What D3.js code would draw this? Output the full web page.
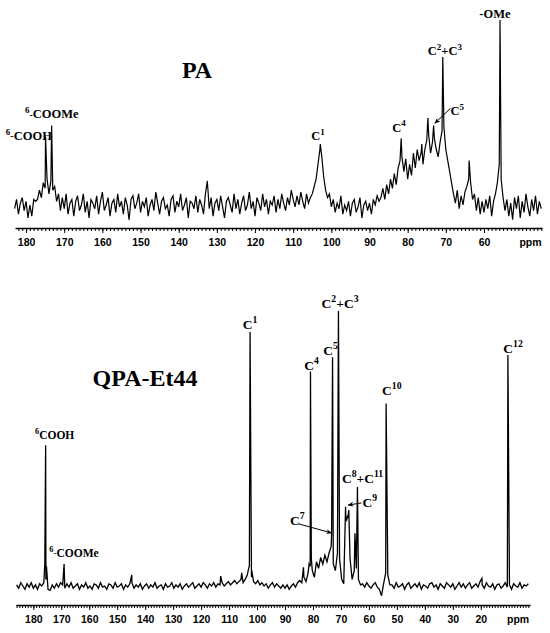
<!DOCTYPE html>
<html><head><meta charset="utf-8">
<script src="https://cdn.jsdelivr.net/npm/d3@7"></script>
<style>
html,body{margin:0;padding:0;background:#fff;}
svg{display:block;}
.axis text{font-family:"Liberation Sans",Arial,sans-serif;font-weight:bold;font-size:10.5px;fill:#000;}
.axis .domain{stroke:#000;stroke-width:1.6px;}
.axis line{stroke:#000;stroke-width:1px;}
.lbl{font-family:"Liberation Serif","Times New Roman",serif;font-weight:bold;fill:#000;}
</style></head><body>
<svg id="chart" width="550" height="633"></svg>
<script>
// ---------------- DATA ----------------
const ticksTop = [180,170,160,150,140,130,120,110,100,90,80,70,60];
const ticksBottom = [180,170,160,150,140,130,120,110,100,90,80,70,60,50,40,30,20];

// PA trace: intensity read every 0.5 ppm from 183.0 ppm down to 45.0 ppm (a.u., -OMe = 100)
const paStart = 183.0, paStep = 0.5;
const paTrace = [
 -2,3,-5,1,4,-3,2,-7,0,-6,3,2,
 3,8,4,12,9,14,6,13,8,10,2,6,-3,
 4,-2,6,-5,1,3,-6,2,5,-3,
 0,6,-4,2,-7,3,1,-2,5,-5,
 2,7,-3,0,4,-6,1,3,-4,6,
 -1,2,-5,4,0,-8,3,5,-2,1,
 6,-4,2,-1,4,-6,0,3,-3,7,
 1,-5,2,4,-2,0,-6,3,5,-4,
 2,-1,6,-3,0,4,-7,2,1,-2,
 5,-4,3,0,-5,6,13,-2,4,-6,
 1,3,-3,5,-1,-7,2,4,0,-4,
 6,-2,3,-5,1,5,-3,0,7,-2,
 2,-6,4,1,-3,6,-1,3,-5,2,
 0,5,-4,3,-2,6,1,-3,4,0,
 8,
 3,-1,5,0,7,2,-2,6,1,4,
 6,10,14,22,30,26,15,8,4,6,
 -1,3,-4,1,-2,5,-5,0,-3,2,-6,1,3,-4,-1,4,-7,0,2,-3,1,-5,3,0,5,2,
 4,9,3,11,6,14,9,17,11,20,24,26,18,25,14,22,16,28,
 20,30,24,28,22,30,35,38,28,34,36,30,26,34,40,42,30,24,18,12,
 6,1,8,-2,5,0,7,10,14,12,3,6,-3,4,-5,2,-4,3,-2,5,
 -6,2,6,12,22,14,4,-3,3,-6,1,-8,4,-2,5,-7,2,-4,6,-1,
 -6,3,-3,5,-5,2,-2
];
// PA resolved peaks [ppm, intensity]
const paPeaks = [[174.9,37],[173.3,43],[102.9,33],[81.7,36],[76.3,33],[74.7,47],[73.2,43],[70.8,80],[63.9,24],[55.8,100]];

// QPA-Et44 trace: intensity read every 0.75 ppm from 186.0 ppm down to 3.0 ppm (a.u., C2+C3 = 250)
const qpaStart = 186.0, qpaStep = 0.75;
const qpaTrace = [
 1,-2,3,0,-3,2,-1,3,-2,1,-3,2,0,
 3,6,-3,
 -4,1,-2,2,-1,3,
 1,-2,2,
 -1,3,-2,0,2,-3,1,-1,3,-2,
 0,-3,2,1,-2,3,-1,0,-3,2,
 1,-2,3,-1,0,2,-3,1,-1,2,
 3,-2,1,-1,2,-3,0,2,-2,1,
 -1,3,-2,0,1,-3,2,-1,0,3,
 -2,1,-1,2,-3,0,2,-1,1,3,
 -2,0,2,-1,3,1,-2,2,0,3,
 -1,2,
 1,3,0,2,4,1,3,5,2,4,6,3,6,10,
 18,8,4,2,5,1,3,0,2,-2,1,3,-1,2,0,-2,1,
 -2,1,-3,0,2,-1,3,5,3,8,4,12,
 18,
 14,8,22,16,26,20,28,22,30,36,20,14,30,25,6,2,62,62,25,6,14,16,6,1,
 2,-1,3,0,-2,1,3,-1,-3,-9,
 2,12,10,1,
 1,-2,3,-1,0,2,-3,1,3,-2,
 0,2,-1,3,-3,1,0,-2,2,3,
 -1,1,-3,2,0,-2,3,1,-1,2,
 -3,0,3,-1,2,-2,1,3,-2,0,
 2,-1,4,1,-2,3,0,-1,2,-3,
 1,2,-2,0,3,-1,1,-3,2,0,
 -1,3,-2,1,0,2
];
// QPA-Et44 resolved peaks [ppm, intensity]
const qpaPeaks = [
 [175.9,20],[175.6,128],[175.3,18],[169.0,20],[144.8,10],[113.0,9],[105.5,12],
 [103.0,16],[102.5,231],[101.9,14],[83.4,17],[81.4,20],[80.9,195],[80.6,25],
 [73.35,47],[73.0,208],[70.9,250],[68.35,72],[67.95,60],[67.65,64],[67.2,69],
 [65.0,48],[64.1,90],[53.85,166],[19.6,7],[10.3,210]
];

// Annotations: parts [text, kind], position in (ppm, intensity)
const paTitle = {parts:[["PA",""]], ppm:135.2, v:68.6, size:24, anchor:"middle"};
const paLabels = [
 {parts:[["-OMe",""]], ppm:57.15, v:101, anchor:"middle"},
 {parts:[["C",""],["2","sup"],["+C",""],["3","sup"]], ppm:70.25, v:81, anchor:"middle"},
 {parts:[["C",""],["5","sup"]], ppm:67.0, v:48.6, anchor:"middle"},
 {parts:[["C",""],["4","sup"]], ppm:82.3, v:39.6, anchor:"middle"},
 {parts:[["C",""],["1","sup"]], ppm:103.5, v:35.1, anchor:"middle"},
 {parts:[["6","sup"],["-","dash"],["COOMe",""]], ppm:180.3, v:46.9, anchor:"start"},
 {parts:[["6","sup"],["-","dash"],["COOH",""]], ppm:185.3, v:35.1, anchor:"start"}
];
const paArrows = [{from:[68.75,52.3], to:[72.87,44.2]}];

const qpaTitle = {parts:[["QPA-Et44",""]], ppm:140.06, v:181.8, size:24, anchor:"middle"};
const qpaLabels = [
 {parts:[["6","sup"],["COOH",""]], ppm:179.4, v:133.4, anchor:"start", size:11.5},
 {parts:[["6","sup"],["-","dash"],["COOMe",""]], ppm:174.3, v:26.4, anchor:"start", size:11.5},
 {parts:[["C",""],["1","sup"]], ppm:102.51, v:233.6, anchor:"middle"},
 {parts:[["C",""],["4","sup"]], ppm:80.51, v:196.4, anchor:"middle"},
 {parts:[["C",""],["5","sup"]], ppm:73.72, v:210, anchor:"middle"},
 {parts:[["C",""],["2","sup"],["+C",""],["3","sup"]], ppm:70.32, v:252.7, anchor:"middle"},
 {parts:[["C",""],["10","sup"]], ppm:51.83, v:173.6, anchor:"middle"},
 {parts:[["C",""],["12","sup"]], ppm:8.45, v:211.8, anchor:"middle"},
 {parts:[["C",""],["8","sup"],["+C",""],["11","sup"]], ppm:62.27, v:93.9, anchor:"middle"},
 {parts:[["C",""],["9","sup"]], ppm:62.27, v:71.8, anchor:"start"},
 {parts:[["C",""],["7","sup"]], ppm:88.2, v:55.5, anchor:"start"}
];
const qpaArrows = [{from:[62.63,75.5], to:[67.46,73.6]}, {from:[85.0,56.4], to:[73.36,48.2]}];

// ---------------- CHART ----------------
const svg = d3.select("#chart");
svg.append("defs").append("marker")
  .attr("id","arr").attr("viewBox","0 0 10 10").attr("refX",9).attr("refY",5)
  .attr("markerWidth",6).attr("markerHeight",6).attr("orient","auto-start-reverse")
  .append("path").attr("d","M0,1 L10,5 L0,9 L3,5 z").attr("fill","#000");

function buildSeries(start, step, trace, peaks){
  const pts = trace.map((v,i)=>({ppm:start - i*step, v}));
  peaks.forEach(([p,v])=>pts.push({ppm:p, v}));
  pts.sort((a,b)=>b.ppm - a.ppm);
  return pts;
}

function drawLabel(g, spec, x, y, defSize){
  const size = spec.size || defSize;
  const t = g.append("text").attr("class","lbl")
    .attr("x", x(spec.ppm)).attr("y", y(spec.v))
    .attr("font-size", size).attr("text-anchor", spec.anchor || "middle");
  let shift = 0;
  spec.parts.forEach(([s,k])=>{
    let target = 0, fs = null;
    if (k === "sup") { target = -0.42*size; fs = size*0.72; }
    else if (k === "dash") { target = -0.05*size; fs = size*0.8; }
    const ts = t.append("tspan").text(s).attr("dy", target - shift);
    if (fs) ts.attr("font-size", fs);
    shift = target;
  });
}

function drawAxis(yPos, x, majors, ppmPos){
  const g = svg.append("g").attr("class","axis").attr("transform",`translate(0,${yPos})`);
  const [d0, d1] = x.domain();
  const minor = d3.range(Math.ceil(d1), Math.floor(d0) + 1);
  g.append("g").call(d3.axisBottom(x).tickValues(minor).tickSize(3).tickSizeOuter(0).tickFormat(""));
  const gm = g.append("g").call(d3.axisBottom(x).tickValues(majors).tickSize(5).tickSizeOuter(0).tickPadding(6).tickFormat(d3.format("d")));
  gm.select(".domain").remove();
  g.append("text").attr("x", x(ppmPos)).attr("y", 11).attr("dy","0.71em").attr("text-anchor","middle").text("ppm");
}

function panel(cfg){
  const g = svg.append("g");
  const series = buildSeries(cfg.start, cfg.step, cfg.trace, cfg.peaks);
  const line = d3.line().x(d=>cfg.x(d.ppm)).y(d=>cfg.y(d.v));
  g.append("path").datum(series).attr("d", line)
    .attr("fill","none").attr("stroke","#000").attr("stroke-width",cfg.lineWidth).attr("stroke-linejoin","miter");
  drawLabel(g, cfg.title, cfg.x, cfg.y, 24);
  cfg.labels.forEach(l=>drawLabel(g, l, cfg.x, cfg.y, cfg.labelSize));
  cfg.arrows.forEach(a=>{
    g.append("line").attr("x1",cfg.x(a.from[0])).attr("y1",cfg.y(a.from[1]))
      .attr("x2",cfg.x(a.to[0])).attr("y2",cfg.y(a.to[1]))
      .attr("stroke","#000").attr("stroke-width",1).attr("marker-end","url(#arr)");
  });
  drawAxis(cfg.axisY, cfg.x, cfg.ticks, cfg.ppmPos);
}

const xTop = d3.scaleLinear().domain([182.9, 44.8]).range([15, 542]);
const yTop = d3.scaleLinear().domain([0, 100]).range([205, 20]);
const xBot = d3.scaleLinear().domain([186.2, 2.4]).range([16, 530]);
const yBot = d3.scaleLinear().domain([0, 250]).range([586, 311]);

panel({start:paStart, step:paStep, trace:paTrace, peaks:paPeaks, x:xTop, y:yTop, lineWidth:1.2,
  title:paTitle, labels:paLabels, arrows:paArrows, labelSize:12.5, axisY:228, ticks:ticksTop, ppmPos:47.8});
panel({start:qpaStart, step:qpaStep, trace:qpaTrace, peaks:qpaPeaks, x:xBot, y:yBot, lineWidth:1.3,
  title:qpaTitle, labels:qpaLabels, arrows:qpaArrows, labelSize:13.5, axisY:605, ticks:ticksBottom, ppmPos:6.66});
</script>
</body></html>
